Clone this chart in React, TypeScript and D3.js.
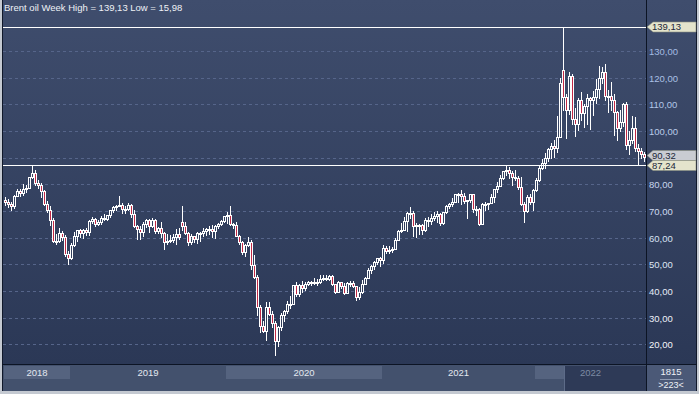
import * as d3 from 'd3';

type Candle = [number, number, number, number]; // open, high, low, close

const title = 'Brent oil Week High = 139,13 Low = 15,98';
const years = ['2018', '2019', '2020', '2021', '2022'];
const yTicks = [20, 30, 40, 50, 60, 70, 80, 90, 100, 110, 120, 130];
const hiddenTick = 90; // covered by the price tags
const highValue = 139.13;
const lastValue = 90.32;
const lineValue = 87.24;
const footTop = '1815';
const footBottom = '>223<';

// weekly candles
const w2018: Candle[] = [
  [74.3, 75.3, 72.3, 73.2], [73.2, 74.6, 71.6, 72.8], [72.8, 73.2, 70.3, 71.8], [71.8, 76.0, 71.0, 75.8],
  [75.8, 78.2, 75.5, 77.4], [77.4, 78.2, 75.5, 76.8], [76.8, 80.1, 76.0, 78.1], [78.1, 79.9, 77.3, 78.8],
  [78.8, 82.9, 78.5, 82.7], [82.7, 86.7, 82.5, 84.2], [84.2, 85.4, 79.9, 80.4], [80.4, 81.5, 78.8, 79.8],
  [79.8, 80.5, 75.1, 77.6], [77.6, 78.0, 72.2, 72.8], [72.8, 73.9, 69.6, 70.2], [70.2, 72.0, 64.6, 66.8],
  [66.8, 67.5, 58.4, 58.8], [58.8, 61.4, 57.5, 58.7], [58.7, 63.7, 58.4, 61.7], [61.7, 62.6, 59.0, 60.3],
  [60.3, 61.0, 53.2, 53.8], [53.8, 55.0, 50.0, 52.2],
];
const w2019: Candle[] = [
  [52.2, 58.0, 52.0, 57.1], [57.1, 62.0, 56.8, 60.5], [60.5, 62.9, 58.8, 62.7], [62.7, 63.3, 60.1, 61.6],
  [61.6, 63.2, 59.7, 62.8], [62.8, 63.6, 61.1, 62.1], [62.1, 66.8, 61.0, 66.3], [66.3, 67.6, 65.6, 67.1],
  [67.1, 67.3, 64.4, 65.1], [65.1, 66.8, 64.6, 65.7], [65.7, 68.0, 65.2, 67.2], [67.2, 68.7, 66.6, 67.0],
  [67.0, 68.4, 66.5, 68.4], [68.4, 70.4, 67.6, 70.3], [70.3, 71.8, 69.6, 71.6], [71.6, 72.3, 70.5, 72.0],
  [72.0, 75.6, 71.8, 72.2], [72.2, 73.0, 69.2, 70.9], [70.9, 71.8, 69.2, 70.6], [70.6, 73.0, 70.4, 72.2],
  [72.2, 72.8, 67.6, 68.7], [68.7, 70.2, 64.0, 64.5], [64.5, 64.6, 59.5, 63.3], [63.3, 64.2, 59.5, 62.0],
  [62.0, 66.0, 60.6, 65.2], [65.2, 67.0, 63.9, 66.6], [66.6, 66.9, 62.0, 64.2], [64.2, 67.5, 63.9, 66.7],
  [66.7, 67.0, 61.9, 62.5], [62.5, 64.0, 61.8, 63.5], [63.5, 65.9, 60.1, 61.9], [61.9, 62.0, 55.9, 58.5],
  [58.5, 61.3, 57.7, 58.6], [58.6, 61.0, 58.3, 59.3], [59.3, 61.2, 58.3, 60.4], [60.4, 63.4, 57.7, 61.5],
  [61.5, 63.5, 59.6, 60.2], [66.0, 71.9, 62.9, 64.3], [64.3, 65.9, 61.4, 61.9], [61.9, 62.3, 57.1, 58.4],
  [58.4, 61.2, 57.8, 60.5], [60.5, 60.8, 58.3, 59.4], [59.4, 62.3, 58.0, 61.7], [61.7, 62.3, 58.9, 61.7],
  [61.7, 63.5, 60.8, 62.5], [62.5, 63.5, 61.0, 63.3], [63.3, 64.5, 61.3, 63.4], [63.4, 64.6, 60.2, 62.4],
  [62.4, 64.6, 60.0, 64.4], [64.4, 65.5, 63.5, 65.2], [65.2, 66.5, 64.8, 66.1], [66.1, 68.3, 66.0, 68.2],
];
const w2020: Candle[] = [
  [68.2, 69.5, 65.6, 68.6], [68.6, 71.8, 64.8, 65.0], [65.0, 65.5, 63.6, 64.9], [64.9, 65.7, 60.5, 60.7],
  [60.7, 60.9, 57.6, 58.2], [58.2, 58.9, 53.8, 54.5], [54.5, 57.6, 53.2, 57.3], [57.3, 60.1, 56.7, 58.5],
  [58.5, 59.0, 48.4, 49.7], [49.7, 53.4, 44.8, 45.3], [45.3, 45.9, 31.0, 33.9], [33.9, 34.6, 24.5, 27.0],
  [27.0, 28.8, 24.7, 24.9], [24.9, 36.0, 21.7, 34.1], [34.1, 36.0, 31.0, 31.5], [31.5, 32.6, 26.5, 28.1],
  [28.1, 28.7, 15.98, 21.4], [21.4, 27.0, 19.3, 26.4], [26.4, 31.7, 25.4, 31.0], [31.0, 32.9, 28.6, 32.5],
  [32.5, 36.4, 31.6, 35.1], [35.1, 38.0, 33.5, 35.3], [35.3, 42.4, 35.2, 42.3], [42.3, 43.4, 38.0, 38.7],
  [38.7, 42.5, 38.3, 42.2], [42.2, 43.9, 39.5, 41.0], [41.0, 43.5, 40.5, 42.8], [42.8, 43.7, 42.2, 43.2],
  [43.2, 43.9, 42.3, 43.1], [43.1, 44.9, 42.5, 43.3], [43.3, 44.4, 42.1, 43.3], [43.3, 46.0, 43.0, 44.4],
  [44.4, 46.0, 44.1, 44.8], [44.8, 45.9, 44.0, 44.4], [44.4, 46.0, 44.1, 45.8], [45.8, 46.0, 42.2, 42.7],
  [42.7, 42.8, 39.2, 39.8], [39.8, 43.6, 39.5, 43.2], [43.2, 43.3, 41.0, 41.9], [41.9, 43.0, 38.9, 39.3],
  [39.3, 43.5, 39.3, 42.9], [42.9, 43.7, 41.8, 42.9], [42.9, 43.6, 41.5, 41.8], [41.8, 42.0, 36.6, 37.9],
  [37.9, 41.6, 36.9, 39.5], [39.5, 44.3, 39.3, 42.8], [42.8, 45.2, 42.5, 45.0], [45.0, 48.7, 44.9, 47.9],
  [47.9, 49.9, 46.9, 49.3], [49.3, 51.1, 48.2, 51.0], [51.0, 52.5, 50.3, 52.3], [52.3, 52.6, 49.5, 51.8],
];
const w2021: Candle[] = [
  [51.8, 57.4, 50.4, 56.0], [56.0, 57.0, 54.1, 55.1], [55.1, 56.7, 54.2, 55.4], [55.4, 56.6, 54.7, 55.9],
  [55.9, 59.8, 55.7, 59.3], [59.3, 62.8, 59.2, 62.4], [62.4, 65.5, 62.3, 62.9], [62.9, 67.7, 62.7, 66.1],
  [66.1, 69.8, 62.5, 69.4], [69.4, 71.4, 67.3, 69.2], [69.2, 70.0, 60.5, 64.5], [64.5, 65.5, 60.3, 64.6],
  [64.6, 65.3, 61.5, 64.9], [64.9, 65.0, 61.5, 63.0], [63.0, 67.5, 62.5, 66.8], [66.8, 67.9, 64.4, 66.1],
  [66.1, 69.0, 65.1, 67.3], [67.3, 69.8, 66.6, 68.3], [68.3, 70.0, 66.0, 68.7], [68.7, 69.4, 64.6, 65.4],
  [65.4, 69.6, 65.1, 69.6], [69.6, 72.3, 69.3, 71.9], [71.9, 73.1, 71.0, 72.7], [72.7, 74.9, 71.8, 73.5],
  [73.5, 76.4, 73.3, 76.2], [76.2, 76.6, 73.5, 76.2], [76.2, 77.8, 72.8, 75.6], [75.6, 76.8, 73.0, 73.6],
  [73.6, 74.0, 67.4, 74.1], [74.1, 76.4, 73.2, 76.3], [76.3, 76.5, 69.6, 70.7], [70.7, 71.8, 68.6, 70.6],
  [70.6, 71.1, 64.6, 65.2], [65.2, 72.9, 65.2, 72.7], [72.7, 73.3, 70.5, 72.6], [72.6, 73.0, 70.8, 72.9],
  [72.9, 76.2, 72.9, 75.3], [75.3, 78.3, 73.5, 78.1], [78.1, 80.7, 77.1, 79.3], [79.3, 83.5, 79.2, 82.4],
  [82.4, 85.1, 82.1, 84.9], [84.9, 86.7, 83.4, 85.5], [85.5, 86.6, 82.2, 84.4], [84.4, 85.0, 79.8, 82.7],
  [82.7, 85.5, 81.5, 82.2], [82.2, 83.1, 78.4, 78.9], [78.9, 82.9, 72.2, 72.7], [72.7, 73.5, 65.7, 69.9],
  [69.9, 76.1, 69.6, 75.2], [75.2, 76.3, 72.5, 73.5], [73.5, 78.4, 70.2, 77.8],
];
const w2022: Candle[] = [
  [77.8, 82.2, 77.5, 81.8], [81.8, 86.7, 81.3, 86.1], [86.1, 89.5, 85.8, 87.9], [87.9, 91.7, 86.2, 90.0],
  [90.0, 93.7, 88.8, 93.3], [93.3, 95.5, 89.9, 94.4], [94.4, 96.8, 90.1, 93.5], [93.5, 105.8, 92.1, 97.9],
  [97.9, 119.8, 97.8, 118.1], [123.0, 139.13, 107.9, 112.7], [112.7, 114.0, 97.4, 107.9], [107.9, 122.0, 106.2, 120.7],
  [120.7, 121.2, 102.7, 104.4], [104.4, 108.5, 98.0, 102.8], [102.8, 112.2, 100.4, 111.7], [111.7, 114.8, 104.3, 106.7],
  [106.7, 110.2, 101.5, 109.3], [109.3, 114.0, 102.7, 112.4], [112.4, 112.8, 100.6, 111.6], [111.6, 114.9, 106.1, 112.6],
  [112.6, 119.4, 110.6, 115.6], [115.6, 124.4, 112.5, 119.7], [119.7, 124.0, 117.9, 122.0], [122.0, 125.2, 111.5, 113.1],
  [113.1, 115.4, 107.0, 113.1], [113.1, 118.2, 108.0, 111.6], [111.6, 114.0, 98.5, 107.0], [107.0, 107.4, 96.5, 101.2],
  [101.2, 108.0, 100.0, 103.2], [103.2, 110.6, 102.0, 110.0], [110.0, 110.9, 93.2, 94.9], [94.9, 100.1, 91.5, 96.7],
  [96.7, 105.6, 95.4, 101.0], [101.0, 105.4, 92.4, 93.6], [93.6, 95.0, 87.24, 92.4], [92.4, 93.6, 89.8, 91.2],
  [91.2, 92.2, 88.6, 90.32],
];

const yearWeeks = [w2018, w2019, w2020, w2021, w2022];
const viewStartWeek = 187;

const W = 699;
const H = 394;
const plotRight = 646;
const plotBottom = 364;

const fmt = (v: number) => d3.format('.2f')(v).replace('.', ',');

const App = () => {
  const weeks = yearWeeks.flat();
  const yearStart = d3.cumsum([0, ...yearWeeks.map(w => w.length)]);

  const x = d3.scaleBand<number>()
    .domain(d3.range(weeks.length))
    .range([4, plotRight]);

  const y = d3.scaleLinear()
    .domain([20, 130])
    .range([344.33, 51]);

  const sy = (v: number) => Math.round(y(v)) + 0.5;
  const labelColor = d3.interpolateRgb('#a3bbe3', '#f4f6fa');
  const yearX = (i: number) => i >= weeks.length ? plotRight : (x(i) as number);

  const tag = (c: number, fill: string, text: string) => {
    const pts = [[647, c], [653, c - 5], [696, c - 5], [696, c + 5], [653, c + 5]];
    return (
      <g>
        <polygon points={pts.map(p => p.join(',')).join(' ')} fill={fill} stroke="#8a8f80" strokeWidth={0.6} />
        <text x={652} y={c + 3.2} fontSize={9.5} fill="#1c2838">{text}</text>
      </g>
    );
  };

  return (
    <div style={{ position: 'absolute', left: 0, top: 0, width: W, height: H }}>
      <svg width={W} height={H} style={{ display: 'block', fontFamily: '"Liberation Sans", Arial, sans-serif' }}>
        <defs>
          <linearGradient id="bg" x1="0" y1="0" x2="0" y2="1">
            <stop offset="0" stopColor="#3f4d6d" />
            <stop offset="1" stopColor="#2b3856" />
          </linearGradient>
        </defs>

        <rect x={0} y={0} width={W} height={H} fill="#c4c9d1" />
        <rect x={2} y={0} width={695} height={391} fill="#10182a" />
        <rect x={3} y={0} width={plotRight - 3} height={plotBottom} fill="url(#bg)" />
        <rect x={plotRight + 1} y={0} width={696 - plotRight - 1} height={plotBottom} fill="url(#bg)" />

        {/* grid */}
        <g stroke="#56658a" strokeDasharray="3,3" strokeWidth={1}>
          {yTicks.map(t => (
            <line key={t} x1={3} x2={plotRight} y1={sy(t)} y2={sy(t)} />
          ))}
          {yearStart.slice(1, years.length).map(i => (
            <line key={i} x1={yearX(i) + 0.5} x2={yearX(i) + 0.5} y1={0} y2={plotBottom} />
          ))}
        </g>

        {/* candles */}
        <g>
          {weeks.map((d, i) => {
            const [o, h, l, c] = d;
            const left = x(i) as number;
            const cx = left + 1.5;
            const top = sy(Math.max(o, c));
            let bot = sy(Math.min(o, c));
            if (bot - top < 1) bot = top + 1;
            const hi = sy(h);
            const lo = sy(l);
            return (
              <g key={i}>
                {hi < top && <line x1={cx} x2={cx} y1={hi - 0.5} y2={top} stroke="#fff" />}
                {lo > bot && <line x1={cx} x2={cx} y1={bot} y2={lo + 0.5} stroke="#fff" />}
                <rect x={left + 0.5} y={top} width={2} height={bot - top}
                  fill={c < o ? '#c02845' : 'none'} stroke="#fff" strokeWidth={1} />
              </g>
            );
          })}
        </g>

        {/* reference lines */}
        <line x1={3} x2={plotRight} y1={sy(highValue)} y2={sy(highValue)} stroke="#fff" />
        <line x1={3} x2={plotRight} y1={sy(lineValue)} y2={sy(lineValue)} stroke="#fff" />

        {/* frame lines */}
        <line x1={plotRight + 0.5} x2={plotRight + 0.5} y1={0} y2={391} stroke="#0c1424" />
        <line x1={2} x2={697} y1={plotBottom + 0.5} y2={plotBottom + 0.5} stroke="#0c1424" />

        <text x={4} y={11} fontSize={9.5} fill="#eef1f6">{title}</text>

        {/* right axis */}
        <g fontSize={9.5}>
          {yTicks.filter(t => t !== hiddenTick).map(t => (
            <text key={t} x={649} y={sy(t) + 3.5} fill={labelColor((130 - t) / 110)}>{fmt(t)}</text>
          ))}
        </g>
        {tag(Math.round(y(highValue)), '#e4e4cc', fmt(highValue))}
        {tag(Math.round(y(lastValue)) - 1.5, '#c9ccd2', fmt(lastValue))}
        {tag(Math.round(y(lineValue)) + 0.5, '#e4e4cc', fmt(lineValue))}

        {/* bottom axis */}
        <rect x={3} y={plotBottom + 1} width={plotRight - 3} height={391 - plotBottom - 1} fill="#43516d" />
        {years.map((yr, k) => {
          const x0 = yearX(yearStart[k]);
          const x1 = yearX(yearStart[k + 1]);
          return k % 2 === 0
            ? <rect key={yr} x={x0} y={366} width={x1 - x0} height={13} fill="#55637f" />
            : null;
        })}
        <rect x={yearX(viewStartWeek)} y={366} width={plotRight - yearX(viewStartWeek)} height={25} fill="#2e3a57" />
        <line x1={yearX(viewStartWeek) - 0.5} x2={yearX(viewStartWeek) - 0.5} y1={366} y2={391} stroke="#5d6b88" />
        {years.map((yr, k) => {
          const x0 = yearX(yearStart[k]);
          const x1 = yearX(yearStart[k + 1]);
          return (
            <text key={yr} x={(x0 + x1) / 2} y={376} fontSize={9.5} textAnchor="middle"
              fill={k === years.length - 1 ? '#7d8aa3' : '#e3e8f0'}>{yr}</text>
          );
        })}

        <rect x={plotRight + 1} y={plotBottom + 1} width={696 - plotRight - 1} height={391 - plotBottom - 1} fill="#4b5977" />
        <text x={671} y={375} fontSize={9.5} textAnchor="middle" fill="#eef1f6">{footTop}</text>
        <line x1={660} x2={683} y1={379.5} y2={379.5} stroke="#8e9ab2" />
        <text x={671} y={388} fontSize={9} textAnchor="middle" fill="#eef1f6">{footBottom}</text>
      </svg>
    </div>
  );
};

export default App;
